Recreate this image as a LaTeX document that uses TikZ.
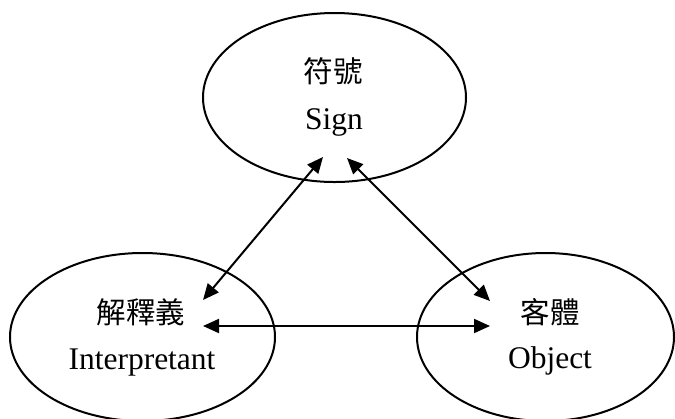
\documentclass[tikz,border=0pt]{standalone}
\usepackage{fontspec}
\setmainfont{Liberation Serif}
\newfontfamily\cjk{Noto Sans CJK TC}
\usetikzlibrary{shapes.geometric,arrows.meta}
\tikzset{
  oval/.style={draw, ellipse, line width=2bp, inner sep=0pt},
  cjktext/.style={anchor=base, inner sep=0pt, font=\cjk\fontsize{29.5bp}{35bp}\selectfont},
  lattext/.style={anchor=base, inner sep=0pt, font=\fontsize{31.5bp}{38bp}\selectfont},
  link/.style={line width=2bp, {Triangle[length=16bp,width=14bp]}-{Triangle[length=16bp,width=14bp]}}
}
\begin{document}
\begin{tikzpicture}[x=1bp,y=-1bp]
\useasboundingbox (0,0) rectangle (675,418);
\begin{scope}
\clip (0,0) rectangle (675,418);
\node[oval, minimum width=263bp, minimum height=169bp] (sign) at (334.5,97.5) {};
\node[oval, minimum width=265bp, minimum height=168bp] (interp) at (142.5,337) {};
\node[oval, minimum width=257bp, minimum height=168bp] (object) at (545.5,337) {};
\end{scope}
\node[cjktext] (signzh) at (333,82) {符號};
\node[lattext] (signen) at (334,129) {Sign};
\node[cjktext] (interpzh) at (141,323) {解釋義};
\node[lattext] (interpen) at (142,369) {Interpretant};
\node[cjktext] (objectzh) at (550,323) {客體};
\node[lattext] (objecten) at (550,368) {Object};
\coordinate (sl) at (323,157);
\coordinate (sr) at (347,158);
\coordinate (it) at (203,300);
\coordinate (ih) at (203,326);
\coordinate (ot) at (490,301);
\coordinate (oh) at (490,326);
\draw[link] (it) -- (sl);
\draw[link] (sr) -- (ot);
\draw[link] (ih) -- (oh);
\end{tikzpicture}
\end{document}
